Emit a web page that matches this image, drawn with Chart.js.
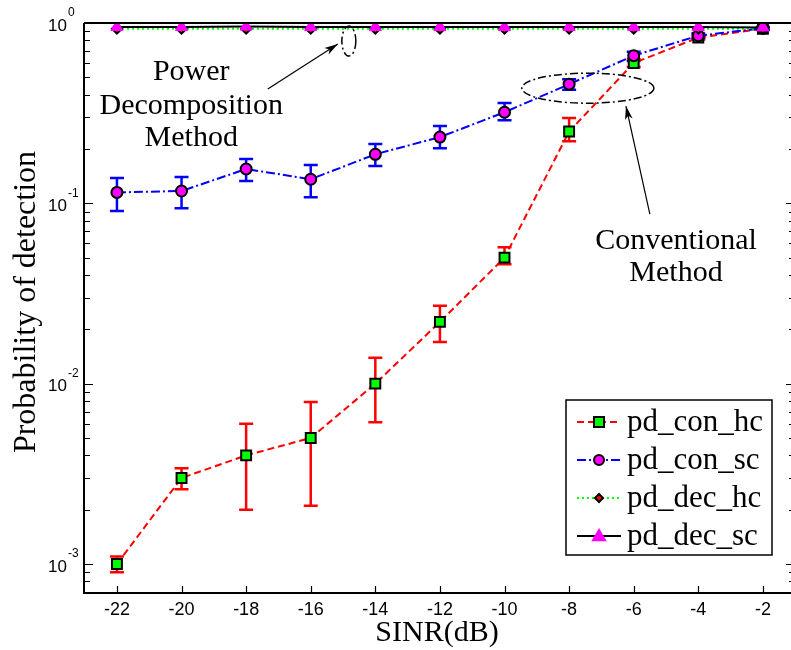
<!DOCTYPE html>
<html>
<head>
<meta charset="utf-8">
<script src="https://cdn.jsdelivr.net/npm/chart.js@4.4.1/dist/chart.umd.min.js"></script>
<style>
  html, body { margin: 0; padding: 0; background: #fff; overflow: hidden; }
  #wrap { width: 791px; height: 650px; }
</style>
</head>
<body>
<div id="wrap"><canvas id="pdChart" width="791" height="650"></canvas></div>
<script>
// SINR sweep (dB)
const sinr = [-22, -20, -18, -16, -14, -12, -10, -8, -6, -4, -2];

// conventional method, hard / soft combining
const pdConHc = [0.001, 0.003, 0.004, 0.005, 0.010, 0.022, 0.050, 0.250, 0.600, 0.830, 0.930];
const pdConHcLow = [0.0009, 0.0026, 0.0020, 0.0021, 0.0061, 0.017, 0.046, 0.221, 0.570, 0.810, 0.915];
const pdConHcHigh = [0.0011, 0.0034, 0.0060, 0.0079, 0.0139, 0.027, 0.057, 0.297, 0.630, 0.850, 0.945];

const pdConSc = [0.115, 0.117, 0.155, 0.136, 0.187, 0.233, 0.320, 0.458, 0.659, 0.850, 0.935];
const pdConScLow = [0.0906, 0.094, 0.133, 0.108, 0.161, 0.202, 0.289, 0.426, 0.615, 0.825, 0.920];
const pdConScHigh = [0.138, 0.140, 0.176, 0.163, 0.213, 0.268, 0.360, 0.488, 0.693, 0.875, 0.950];

// power decomposition method
const pdDecHc = [0.930, 0.930, 0.930, 0.930, 0.930, 0.930, 0.930, 0.930, 0.930, 0.930, 0.930];
const pdDecSc = [0.950, 0.950, 0.955, 0.950, 0.950, 0.950, 0.950, 0.950, 0.950, 0.950, 0.945];

const xTicks = [-22, -20, -18, -16, -14, -12, -10, -8, -6, -4, -2];
const yDecades = [-3, -2, -1, 0];

const serif = '"Liberation Serif", "Times New Roman", serif';
const sans = '"Liberation Sans", Arial, sans-serif';

const pts = (ys) => sinr.map((x, i) => ({ x: x, y: ys[i] }));

const errorBars = [
  { low: pdConHcLow, high: pdConHcHigh, color: '#ff0000' },
  { low: pdConScLow, high: pdConScHigh, color: '#0000ff' }
];

const legendItems = [
  { label: 'pd_con_hc', color: '#ff0000', dash: [7, 4], style: 'rect', fill: '#00ff00', edge: '#000', r: 5 },
  { label: 'pd_con_sc', color: '#0000ff', dash: [9, 3, 2, 3], style: 'circle', fill: '#ff00ff', edge: '#000', r: 5 },
  { label: 'pd_dec_hc', color: '#00ff00', dash: [2, 3], style: 'diamond', fill: '#ff0000', edge: '#000', r: 4 },
  { label: 'pd_dec_sc', color: '#000000', dash: [], style: 'triangle', fill: '#ff00ff', edge: '#ff00ff', r: 6 }
];

function drawMarker(ctx, style, x, y, r, fill, edge) {
  ctx.save();
  ctx.setLineDash([]);
  ctx.fillStyle = fill;
  ctx.strokeStyle = edge;
  ctx.lineWidth = 2;
  ctx.beginPath();
  if (style === 'rect') {
    ctx.rect(x - r, y - r, 2 * r, 2 * r);
  } else if (style === 'circle') {
    ctx.arc(x, y, r, 0, Math.PI * 2);
  } else if (style === 'diamond') {
    ctx.moveTo(x, y - r); ctx.lineTo(x + r, y); ctx.lineTo(x, y + r); ctx.lineTo(x - r, y);
    ctx.closePath();
  } else {
    ctx.moveTo(x, y - r); ctx.lineTo(x + r, y + r * 0.7); ctx.lineTo(x - r, y + r * 0.7);
    ctx.closePath();
  }
  ctx.fill();
  ctx.stroke();
  ctx.restore();
}

function arrow(ctx, x1, y1, x2, y2) {
  const a = Math.atan2(y2 - y1, x2 - x1);
  const len = 14, w = 0.28;
  ctx.beginPath();
  ctx.moveTo(x1, y1);
  ctx.lineTo(x2, y2);
  ctx.stroke();
  ctx.beginPath();
  ctx.moveTo(x2, y2);
  ctx.lineTo(x2 - len * Math.cos(a - w), y2 - len * Math.sin(a - w));
  ctx.lineTo(x2 - len * 0.7 * Math.cos(a), y2 - len * 0.7 * Math.sin(a));
  ctx.lineTo(x2 - len * Math.cos(a + w), y2 - len * Math.sin(a + w));
  ctx.closePath();
  ctx.fill();
}

const errorBarPlugin = {
  id: 'errorBarPlugin',
  beforeDatasetsDraw(chart) {
    const { ctx, scales: { x, y } } = chart;
    ctx.save();
    ctx.lineWidth = 2.5;
    errorBars.forEach(eb => {
      ctx.strokeStyle = eb.color;
      sinr.forEach((v, i) => {
        const px = x.getPixelForValue(v);
        const yl = y.getPixelForValue(eb.low[i]);
        const yh = y.getPixelForValue(eb.high[i]);
        ctx.beginPath();
        ctx.moveTo(px, yl); ctx.lineTo(px, yh);
        ctx.moveTo(px - 7, yl); ctx.lineTo(px + 7, yl);
        ctx.moveTo(px - 7, yh); ctx.lineTo(px + 7, yh);
        ctx.stroke();
      });
    });
    ctx.restore();
  }
};

const axesPlugin = {
  id: 'axesPlugin',
  afterDraw(chart) {
    const { ctx, chartArea: a, scales: { x, y } } = chart;
    ctx.save();
    ctx.strokeStyle = '#000';
    ctx.lineWidth = 2;
    ctx.beginPath();
    ctx.moveTo(a.left, a.top); ctx.lineTo(a.right, a.top);
    ctx.moveTo(a.left, a.top); ctx.lineTo(a.left, a.bottom);
    ctx.lineTo(a.right, a.bottom);
    ctx.stroke();

    // inward ticks
    ctx.lineWidth = 1.2;
    ctx.beginPath();
    xTicks.forEach(v => {
      const px = Math.round(x.getPixelForValue(v)) + 0.5;
      ctx.moveTo(px, a.bottom); ctx.lineTo(px, a.bottom - 7);
    });
    for (let k = -4; k <= 0; k++) {
      for (let m = 1; m <= 9; m++) {
        const v = m * Math.pow(10, k);
        if (v < y.min || v > y.max) continue;
        const py = Math.round(y.getPixelForValue(v)) + 0.5;
        const len = m === 1 ? 9 : 6;
        ctx.moveTo(a.left, py); ctx.lineTo(a.left + len, py);
        ctx.moveTo(a.right + 4, py); ctx.lineTo(a.right + 4 - len, py);
      }
    }
    ctx.stroke();

    // y tick labels 10^k
    ctx.fillStyle = '#000';
    yDecades.forEach(k => {
      const py = y.getPixelForValue(Math.pow(10, k));
      ctx.font = '17px ' + sans;
      ctx.textAlign = 'right';
      ctx.textBaseline = 'middle';
      ctx.fillText('10', a.left - 17, py + 3);
      ctx.font = '12px ' + sans;
      ctx.textAlign = 'left';
      ctx.fillText(String(k), a.left - 16, py - 10);
    });

    // axis titles
    ctx.font = '30px ' + serif;
    ctx.textAlign = 'center';
    ctx.textBaseline = 'middle';
    ctx.fillText('SINR(dB)', 437, 633);
    ctx.save();
    ctx.translate(27, 302);
    ctx.rotate(-Math.PI / 2);
    ctx.font = '32px ' + serif;
    ctx.fillText('Probability of detection', 0, 0);
    ctx.restore();

    // annotations
    ctx.lineWidth = 1.5;
    ctx.setLineDash([8, 3, 2, 3]);
    ctx.beginPath();
    ctx.ellipse(x.getPixelForValue(-14.82), y.getPixelForValue(0.794), 7, 15, 0, 0, Math.PI * 2);
    ctx.stroke();
    ctx.beginPath();
    ctx.ellipse(x.getPixelForValue(-7.42), y.getPixelForValue(0.435), 66, 15, 0, 0, Math.PI * 2);
    ctx.stroke();
    ctx.setLineDash([]);
    ctx.lineWidth = 1.2;
    arrow(ctx, x.getPixelForValue(-17.33), y.getPixelForValue(0.43), x.getPixelForValue(-15.16), y.getPixelForValue(0.764));
    arrow(ctx, x.getPixelForValue(-5.5), y.getPixelForValue(0.0872), x.getPixelForValue(-6.24), y.getPixelForValue(0.346));

    ctx.font = '30px ' + serif;
    ctx.textAlign = 'center';
    ctx.fillText('Power', x.getPixelForValue(-19.7), y.getPixelForValue(0.535));
    ctx.fillText('Decomposition', x.getPixelForValue(-19.7), y.getPixelForValue(0.348));
    ctx.fillText('Method', x.getPixelForValue(-19.7), y.getPixelForValue(0.229));
    ctx.fillText('Conventional', x.getPixelForValue(-4.69), y.getPixelForValue(0.0615));
    ctx.fillText('Method', x.getPixelForValue(-4.69), y.getPixelForValue(0.0408));

    // legend
    const lx = 566, ly = 400, lw = 206, lh = 155;
    ctx.fillStyle = '#fff';
    ctx.fillRect(lx, ly, lw, lh);
    ctx.strokeStyle = '#000';
    ctx.lineWidth = 1.5;
    ctx.strokeRect(lx, ly, lw, lh);
    legendItems.forEach((it, i) => {
      const cy = ly + 22 + i * 38;
      ctx.strokeStyle = it.color;
      ctx.lineWidth = 2;
      ctx.setLineDash(it.dash);
      ctx.beginPath();
      ctx.moveTo(lx + 11, cy); ctx.lineTo(lx + 55, cy);
      ctx.stroke();
      ctx.setLineDash([]);
      drawMarker(ctx, it.style, lx + 33, cy, it.r, it.fill, it.edge);
      ctx.fillStyle = '#000';
      ctx.font = '31px ' + serif;
      ctx.textAlign = 'left';
      ctx.textBaseline = 'middle';
      ctx.fillText(it.label, lx + 61, cy + 1);
    });
    ctx.restore();
  }
};

new Chart(document.getElementById('pdChart'), {
  type: 'line',
  data: {
    datasets: [
      {
        label: 'pd_con_hc', data: pts(pdConHc), order: 4,
        borderColor: '#ff0000', borderWidth: 2, borderDash: [7, 4],
        pointStyle: 'rect', pointRadius: 7, pointBackgroundColor: '#00ff00',
        pointBorderColor: '#000', pointBorderWidth: 2
      },
      {
        label: 'pd_con_sc', data: pts(pdConSc), order: 3,
        borderColor: '#0000ff', borderWidth: 2, borderDash: [9, 3, 2, 3],
        pointStyle: 'circle', pointRadius: 5.5, pointBackgroundColor: '#ff00ff',
        pointBorderColor: '#000', pointBorderWidth: 2
      },
      {
        label: 'pd_dec_hc', data: pts(pdDecHc), order: 2,
        borderColor: '#00ff00', borderWidth: 2, borderDash: [2, 3],
        pointStyle: 'rectRot', pointRadius: 5, pointBackgroundColor: '#ff0000',
        pointBorderColor: '#000', pointBorderWidth: 2
      },
      {
        label: 'pd_dec_sc', data: pts(pdDecSc), order: 1,
        borderColor: '#000000', borderWidth: 2,
        pointStyle: 'triangle', pointRadius: 7, pointBackgroundColor: '#ff00ff',
        pointBorderColor: '#ff00ff', pointBorderWidth: 1
      }
    ]
  },
  options: {
    responsive: false,
    animation: false,
    layout: { autoPadding: false, padding: { top: 23, right: 0, left: 0, bottom: 0 } },
    plugins: { legend: { display: false }, tooltip: { enabled: false } },
    elements: { line: { tension: 0, fill: false } },
    scales: {
      x: {
        type: 'linear', min: -23.02, max: -1.13,
        grid: { display: false, drawTicks: false }, border: { display: false },
        afterBuildTicks: (s) => { s.ticks = xTicks.map(v => ({ value: v })); },
        afterFit: (s) => { s.height = 57; s.paddingLeft = 0; s.paddingRight = 0; },
        ticks: { color: '#000', font: { family: sans, size: 18 }, padding: 6, maxRotation: 0 }
      },
      y: {
        type: 'logarithmic', min: Math.pow(10, -3.161), max: 1,
        grid: { display: false, drawTicks: false }, border: { display: false },
        afterFit: (s) => { s.width = 84; s.paddingTop = 0; s.paddingBottom = 0; },
        ticks: { display: false }
      }
    }
  },
  plugins: [errorBarPlugin, axesPlugin]
});
</script>
</body>
</html>
